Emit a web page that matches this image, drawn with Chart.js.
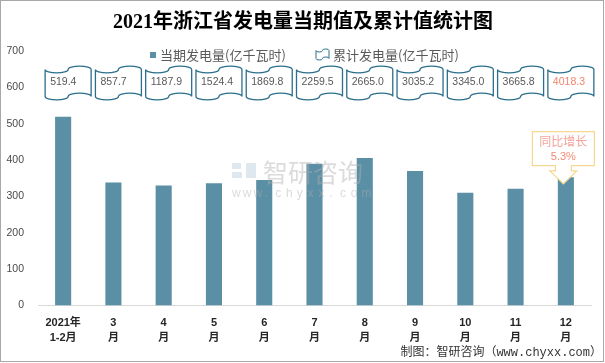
<!DOCTYPE html>
<html>
<head>
<meta charset="utf-8">
<script src="https://cdn.jsdelivr.net/npm/chart.js@4"></script>
<style>
html,body{margin:0;padding:0;background:#fff;}
#wrap{width:605px;height:363px;position:relative;}
</style>
</head>
<body>
<div id="wrap"><canvas id="c" width="605" height="363"></canvas></div>
<script>
const categories = [['2021年','1-2月'],['3','月'],['4','月'],['5','月'],['6','月'],['7','月'],['8','月'],['9','月'],['10','月'],['11','月'],['12','月']];
const monthly = [519.4, 338.3, 330.2, 336.5, 345.4, 389.7, 405.5, 370.2, 309.8, 320.8, 352.5];
const cumulative = [519.4, 857.7, 1187.9, 1524.4, 1869.8, 2259.5, 2665.0, 3035.2, 3345.0, 3665.8, 4018.3];
const yoyLabel = ['同比增长', '5.3%'];
const titleText = '2021年浙江省发电量当期值及累计值统计图';
const legendLabels = ['当期发电量(亿千瓦时)', '累计发电量(亿千瓦时)'];
const footerText = '制图：智研咨询（www.chyxx.com）';

const BAR = '#5b8fa5';
const WAVE = '#2b6f8c';
const SANS = '"Liberation Sans", "Noto Sans CJK SC", sans-serif';
const CJK = '"Noto Sans CJK SC", "Liberation Sans", sans-serif';

function wavePath(ctx, L, T, w, h, a) {
  const B = T + h;
  ctx.beginPath();
  ctx.moveTo(L, T);
  ctx.ellipse(L + w/4, T, w/4, a, 0, Math.PI, 0, true);
  ctx.ellipse(L + 3*w/4, T, w/4, a, 0, Math.PI, 2*Math.PI, false);
  ctx.lineTo(L + w, B);
  ctx.ellipse(L + 3*w/4, B, w/4, a, 0, 0, Math.PI, true);
  ctx.ellipse(L + w/4, B, w/4, a, 0, 0, Math.PI, false);
  ctx.closePath();
}

const decor = {
  id: 'decor',
  afterDatasetsDraw(chart) {
    const ctx = chart.ctx;
    ctx.save();
    // watermark (semi-transparent, over the bars)
    ctx.globalAlpha = 0.45;
    ctx.fillStyle = '#b9c9dc';
    ctx.fillRect(232, 163, 9, 6);
    ctx.fillRect(246, 163, 10, 15);
    ctx.fillRect(232, 172, 10, 6);
    ctx.fillStyle = '#b0b0b0';
    ctx.font = '25px ' + CJK;
    ctx.textBaseline = 'middle';
    ctx.textAlign = 'left';
    ctx.fillText('智研咨询', 263, 172);
    ctx.font = '12px ' + SANS;
    const wm = 'www.chyxx.com';
    for (let i = 0; i < wm.length; i++) ctx.fillText(wm[i], 232 + i * 10.8, 194);
    ctx.restore();
  },
  afterDraw(chart) {
    const ctx = chart.ctx;
    const xs = chart.scales.x;
    const ys = chart.scales.y;
    ctx.save();
    // frame
    ctx.strokeStyle = '#a8a8a8';
    ctx.lineWidth = 1;
    ctx.strokeRect(0.5, 0.5, 603, 361);
    // title
    ctx.fillStyle = '#000';
    ctx.font = 'bold 20px "Liberation Serif", "Noto Sans CJK SC", serif';
    ctx.textAlign = 'center';
    ctx.textBaseline = 'middle';
    ctx.fillText(titleText, 303, 23);
    // legend
    ctx.font = '13px ' + CJK;
    ctx.textAlign = 'left';
    ctx.fillStyle = BAR;
    ctx.fillRect(150, 52, 6, 6);
    ctx.fillStyle = '#595959';
    ctx.fillText(legendLabels[0], 160, 55);
    ctx.fillStyle = '#fff';
    ctx.strokeStyle = WAVE;
    ctx.lineWidth = 1;
    wavePath(ctx, 316, 50.5, 13, 8, 1.5);
    ctx.fill(); ctx.stroke();
    ctx.fillStyle = '#595959';
    ctx.fillText(legendLabels[1], 333, 55);
    // cumulative wave boxes
    ctx.font = '10.5px ' + SANS;
    cumulative.forEach((v, i) => {
      const cx = xs.getPixelForValue(i);
      const L = cx - 18, w = 46;
      ctx.fillStyle = '#fff';
      ctx.strokeStyle = WAVE;
      ctx.lineWidth = 1.3;
      wavePath(ctx, L, 69.5, w, 27, 3.4);
      ctx.fill(); ctx.stroke();
      ctx.fillStyle = i === cumulative.length - 1 ? '#f0846e' : '#595959';
      ctx.textAlign = 'left';
      ctx.textBaseline = 'middle';
      ctx.fillText(v.toFixed(1), L + 5, 82.5);
    });
    // callout on last bar
    const li = monthly.length - 1;
    const tx = xs.getPixelForValue(li) - 2.5;
    const ty = ys.getPixelForValue(monthly[li]) + 6.5;
    ctx.beginPath();
    ctx.moveTo(tx - 31, ty - 52.3);
    ctx.lineTo(tx + 31, ty - 52.3);
    ctx.lineTo(tx + 31, ty - 18.3);
    ctx.lineTo(tx + 8, ty - 18.3);
    ctx.lineTo(tx + 8, ty - 13);
    ctx.lineTo(tx + 13.5, ty - 13);
    ctx.lineTo(tx, ty);
    ctx.lineTo(tx - 13.5, ty - 13);
    ctx.lineTo(tx - 8, ty - 13);
    ctx.lineTo(tx - 8, ty - 18.3);
    ctx.lineTo(tx - 31, ty - 18.3);
    ctx.closePath();
    ctx.fillStyle = '#fff';
    ctx.fill();
    ctx.strokeStyle = '#f6d88f';
    ctx.lineWidth = 1.2;
    ctx.stroke();
    ctx.textAlign = 'center';
    ctx.font = '12px ' + CJK;
    ctx.fillStyle = '#f3a49b';
    ctx.fillText(yoyLabel[0], tx, ty - 42.5);
    ctx.font = '11px ' + SANS;
    ctx.fillStyle = '#ef8a74';
    ctx.fillText(yoyLabel[1], tx, ty - 27);
    // footer
    ctx.font = '12px "Liberation Mono", "Noto Sans CJK SC", monospace';
    ctx.fillStyle = '#333';
    ctx.textAlign = 'right';
    ctx.fillText(footerText, 602, 353);
    ctx.restore();
  }
};

new Chart(document.getElementById('c'), {
  type: 'bar',
  data: {
    labels: categories,
    datasets: [{
      label: legendLabels[0],
      data: monthly,
      backgroundColor: BAR,
      borderWidth: 0,
      barPercentage: 0.32,
      categoryPercentage: 1
    }]
  },
  options: {
    responsive: false,
    animation: false,
    devicePixelRatio: 1,
    layout: { padding: { top: 51, right: 14, bottom: 0, left: 0 } },
    plugins: { legend: { display: false }, title: { display: false }, tooltip: { enabled: false } },
    scales: {
      x: {
        grid: { display: false, drawTicks: false },
        border: { display: true, color: '#d9d9d9', width: 1 },
        ticks: {
          autoSkip: false, maxRotation: 0, minRotation: 0, padding: 9,
          color: '#262626',
          font: { family: SANS, size: 11, weight: 'bold', lineHeight: 1.45 }
        },
        afterFit(s) { s.height = 57.5; }
      },
      y: {
        min: 0, max: 700,
        grid: { display: false, drawTicks: false },
        border: { display: false },
        ticks: {
          stepSize: 100, padding: 14, color: '#4a4a4a',
          font: { family: SANS, size: 10.5 }
        },
        afterFit(s) { s.width = 38; }
      }
    }
  },
  plugins: [decor]
});
</script>
</body>
</html>
